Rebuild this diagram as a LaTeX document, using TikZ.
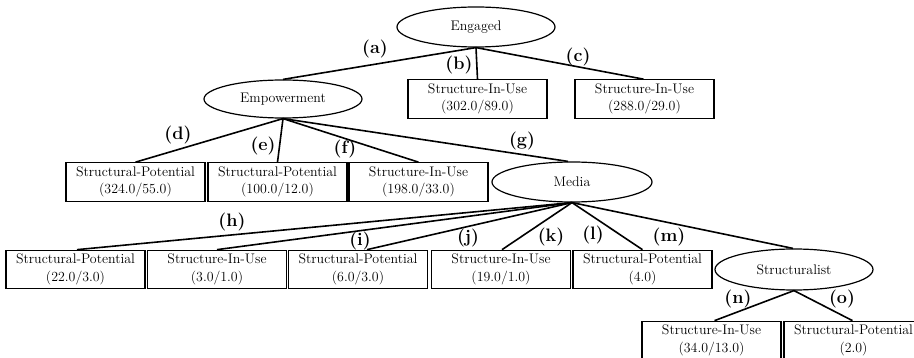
\documentclass[tikz,border=0pt]{standalone}
\usetikzlibrary{shapes.geometric}
\begin{document}
\begin{tikzpicture}[x=1pt,y=-1pt,
  ell/.style={draw, ellipse, line width=1.2pt, inner sep=0pt, minimum width=158pt, minimum height=39pt, font=\fontsize{13.9}{17.5}\selectfont},
  bx/.style={draw, rectangle, line width=1.2pt, minimum width=139pt, minimum height=38.5pt, inner sep=0pt, align=center, font=\fontsize{13.9}{17.5}\selectfont},
  lab/.style={inner sep=0pt, font=\fontsize{18}{20}\selectfont\bfseries},
  conn/.style={line width=1.6pt}]
\useasboundingbox (0,0) rectangle (914,358);
\clip (0,0) rectangle (914,358);
\fill[white] (0,0) rectangle (914,358);
% nodes
\node[ell, minimum height=40pt] (eng) at (476,27) {Engaged};
\node[ell, minimum height=38pt] (emp) at (283,99) {Empowerment};
\node[bx] (b) at (477.5,99) {Structure-In-Use\\(302.0/89.0)};
\node[bx] (c) at (644.5,99) {Structure-In-Use\\(288.0/29.0)};
\node[bx] (d) at (135.5,182) {Structural-Potential\\(324.0/55.0)};
\node[bx] (e) at (277.5,182) {Structural-Potential\\(100.0/12.0)};
\node[bx] (f) at (418.5,182) {Structure-In-Use\\(198.0/33.0)};
\node[ell, minimum width=160pt, minimum height=40pt] (media) at (572,182) {Media};
\node[bx] (r1) at (75.5,269.5) {Structural-Potential\\(22.0/3.0)};
\node[bx] (r2) at (217,269.5) {Structure-In-Use\\(3.0/1.0)};
\node[bx] (r3) at (358,269.5) {Structural-Potential\\(6.0/3.0)};
\node[bx] (r4) at (501,269.5) {Structure-In-Use\\(19.0/1.0)};
\node[bx] (r5) at (642.5,269.5) {Structural-Potential\\(4.0)};
\node[ell, minimum height=41pt] (struct) at (794,269.5) {Structuralist};
\node[bx] (n) at (711.5,340.5) {Structure-In-Use\\(34.0/13.0)};
\node[bx] (o) at (853.5,340.5) {Structural-Potential\\(2.0)};
% connectors
\draw[conn] (eng.south) -- (emp.north);
\draw[conn] (eng.south) -- (b.north);
\draw[conn] (eng.south) -- ([xshift=-1pt]c.north);
\draw[conn] (emp.south) -- (d.north);
\draw[conn] (emp.south) -- (e.north);
\draw[conn] (emp.south) -- (f.north);
\draw[conn] (emp.south) -- ([xshift=-4pt]media.north);
\draw[conn] (media.south) -- ([xshift=1.5pt]r1.north);
\draw[conn] (media.south) -- (r2.north);
\draw[conn] (media.south) -- ([xshift=9pt]r3.north);
\draw[conn] (media.south) -- ([xshift=1pt]r4.north);
\draw[conn] (media.south) -- (r5.north);
\draw[conn] (media.south) -- ([xshift=-1pt]struct.north);
\draw[conn] (struct.south) -- ([xshift=3pt]n.north);
\draw[conn] (struct.south) -- ([xshift=-1pt]o.north);
% labels
\node[lab] (la) at (375,49) {(a)};
\node[lab] (lb) at (459,65) {(b)};
\node[lab] (lc) at (578,57) {(c)};
\node[lab] (ld) at (178,135) {(d)};
\node[lab] (le) at (263,146) {(e)};
\node[lab] (lf) at (345,149) {(f)};
\node[lab] (lg) at (522,141) {(g)};
\node[lab] (lh) at (232,222) {(h)};
\node[lab] (li) at (360,241) {(i)};
\node[lab] (lj) at (468,238) {(j)};
\node[lab] (lk) at (551,237) {(k)};
\node[lab] (ll) at (593,235) {(l)};
\node[lab] (lm) at (669,237) {(m)};
\node[lab] (ln) at (738,299) {(n)};
\node[lab] (lo) at (842,299) {(o)};
\end{tikzpicture}
\end{document}
